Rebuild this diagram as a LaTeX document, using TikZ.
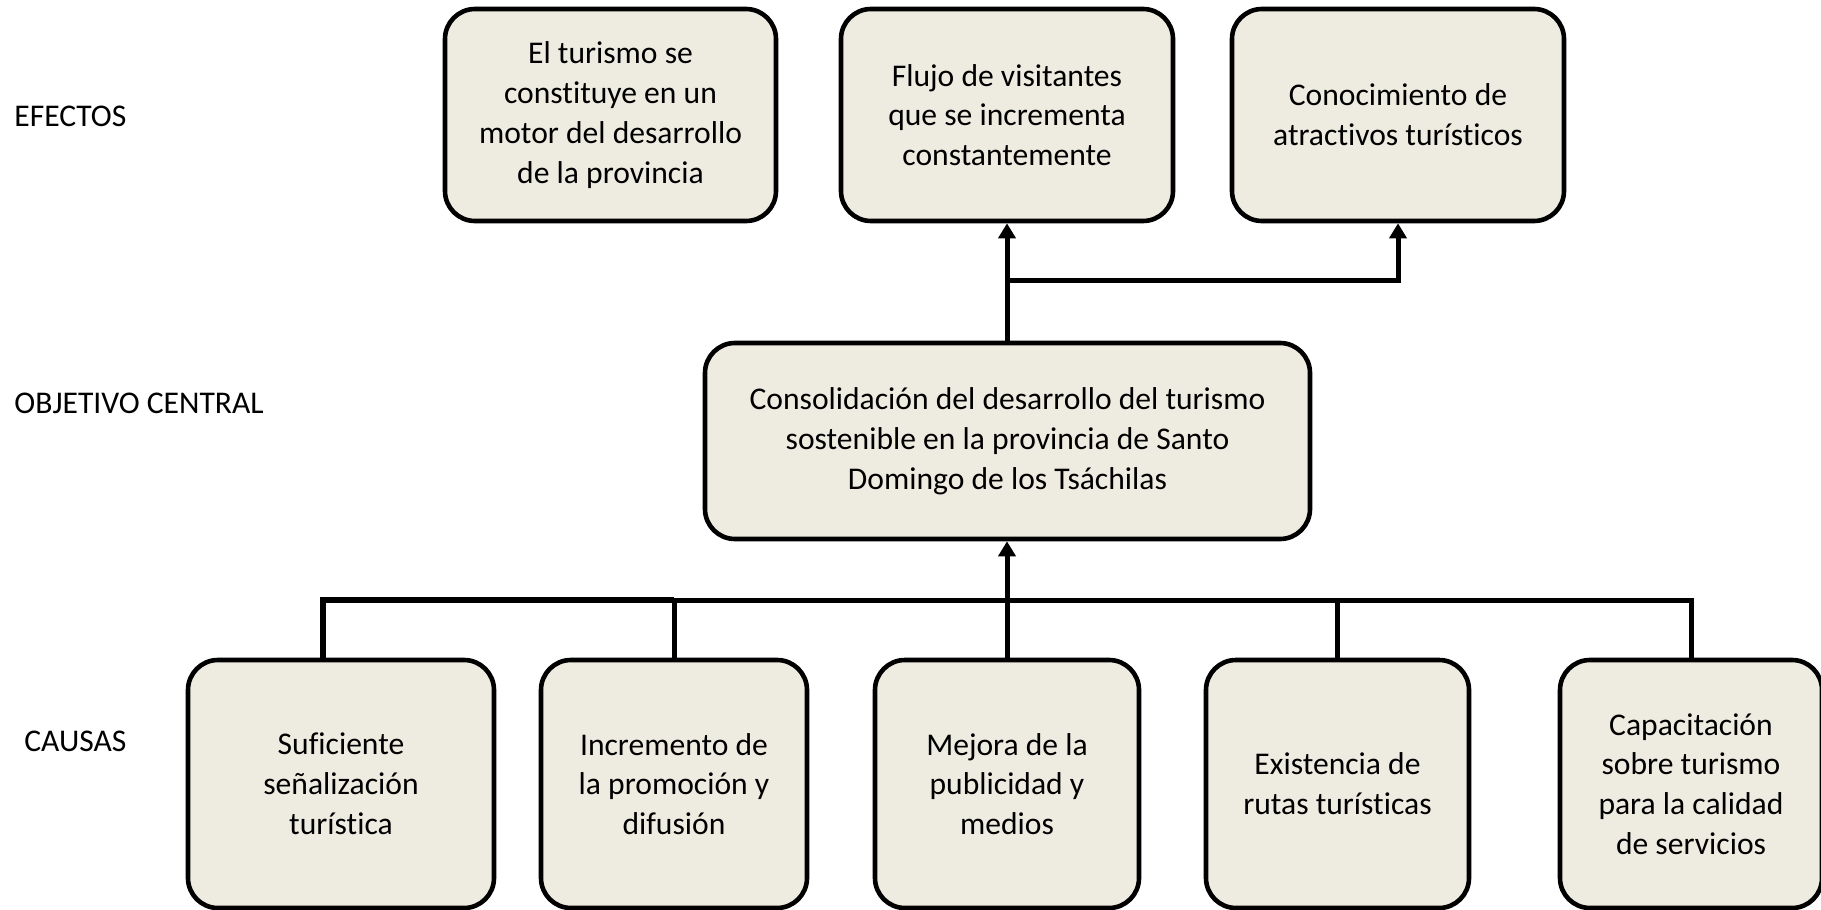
\documentclass[tikz,border=0pt]{standalone}
\usepackage{fontspec}
\setmainfont[Ligatures=NoCommon]{Carlito}
\usetikzlibrary{arrows.meta}
\definecolor{boxfill}{HTML}{EEECE1}
\tikzset{
  box/.style={draw=black, line width=2.3pt, fill=boxfill, rounded corners=15pt,
    align=center, font=\fontsize{15.8pt}{19.9pt}\selectfont, inner sep=0pt},
  conn/.style={line width=2.5pt, draw=black, line join=miter},
  arr/.style={conn, -{Triangle[length=7.5pt,width=8.5pt]}},
  lab/.style={anchor=west, font=\fontsize{15.8pt}{19.9pt}\selectfont, inner sep=0pt}
}
\begin{document}
\begin{tikzpicture}[x=0.5pt,y=-0.5pt]
\useasboundingbox (0,0) rectangle (1821,910);
% labels
\node[lab] (lef) at (14,116) {EFECTOS};
\node[lab] (lobj) at (14,403) {OBJETIVO CENTRAL};
\node[lab] (lcau) at (24,741) {CAUSAS};
% effects
\node[box, minimum width=165.5pt, minimum height=106pt] (e1) at (610.5,115)
  {El turismo se\\constituye en un\\motor del desarrollo\\de la provincia};
\node[box, minimum width=166pt, minimum height=106pt] (e2) at (1007,115)
  {Flujo de visitantes\\que se incrementa\\constantemente};
\node[box, minimum width=166pt, minimum height=106pt] (e3) at (1398,115)
  {Conocimiento de\\atractivos turísticos};
% central
\node[box, minimum width=302.5pt, minimum height=98pt] (obj) at (1007.5,441)
  {Consolidación del desarrollo del turismo\\sostenible en la provincia de Santo\\Domingo de los Tsáchilas};
% causes
\node[box, minimum width=153pt, minimum height=124pt] (c1) at (341,784)
  {Suficiente\\señalización\\turística};
\node[box, minimum width=133pt, minimum height=124pt] (c2) at (674,784)
  {Incremento de\\la promoción y\\difusión};
\node[box, minimum width=132pt, minimum height=124pt] (c3) at (1007,784)
  {Mejora de la\\publicidad y\\medios};
\node[box, minimum width=131.5pt, minimum height=124pt] (c4) at (1337.5,784)
  {Existencia de\\rutas turísticas};
\node[box, minimum width=131pt, minimum height=124pt] (c5) at (1691,784)
  {Capacitación\\sobre turismo\\para la calidad\\de servicios};
% effect connectors
\coordinate (eb) at (1007,280);
\coordinate (ebr) at (1398,280);
\draw[arr] (obj.north -| eb) -- (e2.south);
\draw[arr] (eb) -- (ebr) -- (e3.south);
% cause connectors
\coordinate (jl) at (323,600);
\coordinate (jc) at (1007,600);
\coordinate (jr) at (1691,600);
\draw[conn, line width=3pt] (c1.north -| jl) -- (jl) -- (c2.north |- jl);
\draw[conn] (c2.north |- jl) -- (jr) -- (c5.north);
\draw[conn] (c2.north) -- (c2.north |- jl);
\draw[conn] (c3.north) -- (jc);
\draw[conn] (c4.north) -- (c4.north |- jl);
\draw[arr] (jc) -- (obj.south -| jc);
\end{tikzpicture}
\end{document}
